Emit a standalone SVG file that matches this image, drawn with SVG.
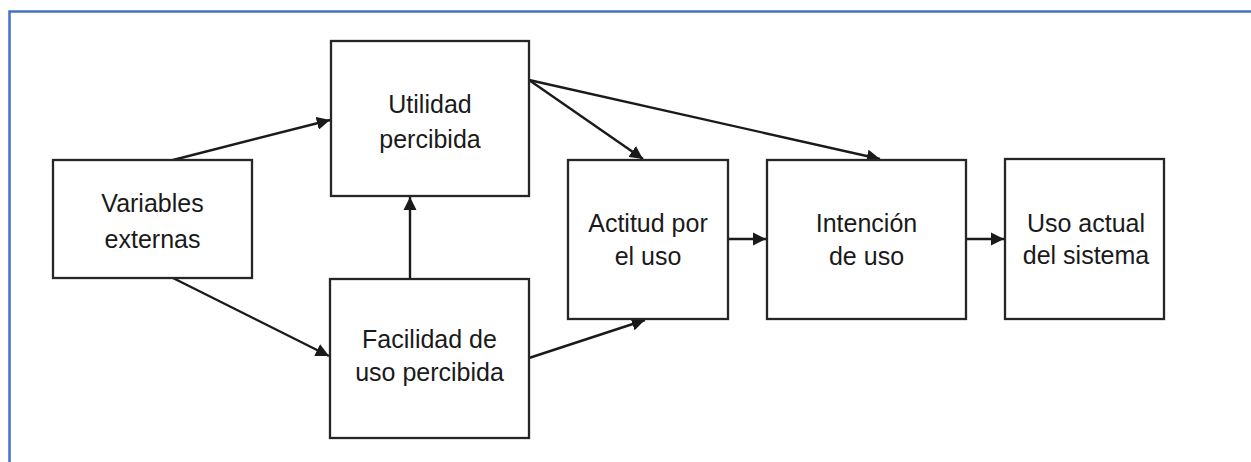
<svg xmlns="http://www.w3.org/2000/svg" width="1251" height="462" viewBox="0 0 1251 462">
<style>
.box{fill:#fff;stroke:#262626;stroke-width:2.3}
.lbl{font-family:"Liberation Sans",Arial,sans-serif;font-size:25px;fill:#1a1a1a;text-anchor:middle}
.edge{stroke:#1a1a1a;stroke-width:2.4;fill:none;marker-end:url(#ah)}
</style>
<defs>
<marker id="ah" viewBox="0 0 10 10" refX="10" refY="5" markerWidth="5.5" markerHeight="5.5" markerUnits="strokeWidth" orient="auto">
<path d="M0,0 L10,5 L0,10 z" fill="#1a1a1a"/>
</marker>
</defs>
<rect x="0" y="0" width="1251" height="462" fill="#fff"/>
<path d="M9.5,462 L9.5,11.5 L1251,11.5" fill="none" stroke="#4472c4" stroke-width="2.5"/>
<g id="connectors">
<line class="edge" x1="173" y1="160" x2="330" y2="120"/>
<line class="edge" x1="173" y1="278" x2="329" y2="356"/>
<line class="edge" x1="410" y1="279" x2="410" y2="197"/>
<line class="edge" x1="529" y1="80" x2="643" y2="159"/>
<line class="edge" x1="529" y1="80" x2="880" y2="159"/>
<line class="edge" x1="529" y1="358" x2="645" y2="320"/>
<line class="edge" x1="728" y1="239" x2="766" y2="239"/>
<line class="edge" x1="966" y1="239" x2="1004" y2="239"/>
</g>
<g id="n-variables">
<rect class="box" x="53" y="160" width="199" height="118"/>
<text class="lbl" x="152.5" y="212">Variables</text>
<text class="lbl" x="152.5" y="248">externas</text>
</g>
<g id="n-utilidad">
<rect class="box" x="331" y="41" width="198" height="155"/>
<text class="lbl" x="430" y="113">Utilidad</text>
<text class="lbl" x="430" y="148">percibida</text>
</g>
<g id="n-facilidad">
<rect class="box" x="330" y="279" width="199" height="159"/>
<text class="lbl" x="429.5" y="348">Facilidad de</text>
<text class="lbl" x="429.5" y="381">uso percibida</text>
</g>
<g id="n-actitud">
<rect class="box" x="568" y="160" width="160" height="159"/>
<text class="lbl" x="648" y="232">Actitud por</text>
<text class="lbl" x="648" y="265">el uso</text>
</g>
<g id="n-intencion">
<rect class="box" x="767" y="160" width="199" height="159"/>
<text class="lbl" x="866.5" y="232">Intención</text>
<text class="lbl" x="866.5" y="265">de uso</text>
</g>
<g id="n-uso">
<rect class="box" x="1005" y="159" width="159" height="160"/>
<text class="lbl" x="1086" y="232">Uso actual</text>
<text class="lbl" x="1086" y="264">del sistema</text>
</g>
</svg>
